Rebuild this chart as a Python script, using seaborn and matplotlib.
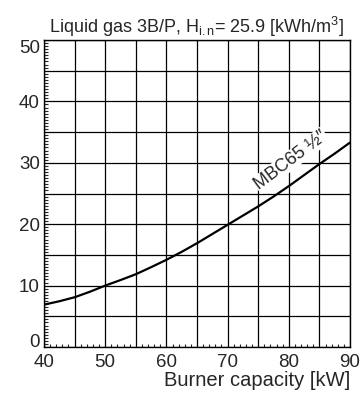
import matplotlib
matplotlib.use("Agg")
import matplotlib.pyplot as plt
from matplotlib.ticker import MultipleLocator
import seaborn as sns
import pandas as pd

capacity_kw = [40, 42.5, 45, 47.5, 50, 52.5, 55, 57.5, 60, 62.5, 65, 67.5,
               70, 72.5, 75, 77.5, 80, 82.5, 85, 87.5, 90]
pressure = [6.9, 7.45, 8.1, 9.0, 10.0, 10.9, 11.85, 13.0, 14.2, 15.5, 16.9, 18.4,
            19.9, 21.4, 22.9, 24.5, 26.2, 28.0, 29.8, 31.5, 33.3]
series_label = "MBC65 \u00bd\u2033"
title = "Liquid gas 3B/P, H$_{\\mathregular{i.n}}$= 25.9 [kWh/m$^{\\mathregular{3}}$]"
xlabel = "Burner capacity [kW]"
xticks = [40, 50, 60, 70, 80, 90]
yticks = [0, 10, 20, 30, 40, 50]

sns.set_style("white")
plt.rcParams['font.family'] = ['Liberation Sans', 'DejaVu Sans']
plt.rcParams['mathtext.fontset'] = 'custom'
plt.rcParams['mathtext.rm'] = 'Liberation Sans'
plt.rcParams['mathtext.it'] = 'Liberation Sans:italic'
plt.rcParams['mathtext.bf'] = 'Liberation Sans:bold'

df = pd.DataFrame({"x": capacity_kw, "y": pressure})

fig = plt.figure(figsize=(3.62, 3.99), dpi=100)
ax = fig.add_axes([44/362, 1-347/399, (350-44)/362, (347-40)/399])

ax.set_xlim(40, 90)
ax.set_ylim(0, 50)
ax.xaxis.set_minor_locator(MultipleLocator(1))
ax.yaxis.set_minor_locator(MultipleLocator(0.5))
ax.grid(True, which='major', color='black', linewidth=0.9)
ax.set_axisbelow(True)

sns.lineplot(data=df, x="x", y="y", ax=ax, color='black', linewidth=1.6)

ax.set_xticks([v for v in range(40, 91, 5)])
ax.set_xticklabels([str(v) if v in xticks else "" for v in range(40, 91, 5)])
ax.set_yticks([v for v in range(0, 51, 5)])
ax.set_yticklabels([str(v) if v in yticks else "" for v in range(0, 51, 5)])
ax.tick_params(axis='both', which='major', length=0, labelsize=13.5, pad=3)
ax.tick_params(axis='x', which='major', pad=5)
ax.tick_params(axis='y', which='minor', direction='in', length=3, width=0.8, left=True)
ax.tick_params(axis='x', which='minor', direction='in', length=2.5, width=0.8, bottom=True)

ylabels = ax.get_yticklabels()
ylabels[0].set_verticalalignment('baseline')
ylabels[-1].set_verticalalignment('top')

for s in ax.spines.values():
    s.set_color('black')
    s.set_linewidth(1.0)

ax.set_xlabel(xlabel, fontsize=14.5, loc='right', labelpad=0)
ax.set_ylabel("")
ax.set_title(title, fontsize=13, pad=5)

ax.text(80.3, 30.4, series_label, rotation=37, fontsize=13,
        ha='center', va='center', rotation_mode='anchor',
        bbox=dict(facecolor='white', edgecolor='none', pad=0.5))

fig.savefig("out.png", dpi=100)
